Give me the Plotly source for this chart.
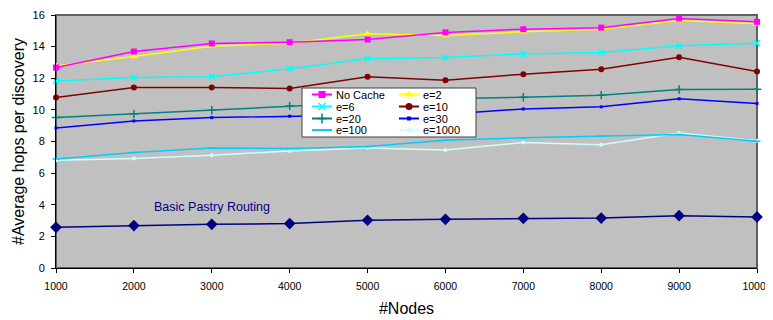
import plotly.graph_objects as go

nodes = [1000, 2000, 3000, 4000, 5000, 6000, 7000, 8000, 9000, 10000]
x_tick_labels = ["1000", "2000", "3000", "4000", "5000", "6000", "7000", "8000", "9000", "10000"]
y_ticks = [0, 2, 4, 6, 8, 10, 12, 14, 16]

no_cache = [12.68, 13.69, 14.20, 14.28, 14.45, 14.90, 15.10, 15.20, 15.78, 15.57]
e2 = [12.78, 13.37, 14.03, 14.22, 14.81, 14.70, 14.94, 15.10, 15.65, 15.44]
e6 = [11.83, 12.04, 12.10, 12.60, 13.23, 13.31, 13.54, 13.63, 14.05, 14.22]
e10 = [10.78, 11.41, 11.41, 11.35, 12.09, 11.88, 12.26, 12.57, 13.33, 12.42]
e20 = [9.51, 9.75, 9.98, 10.25, 10.50, 10.70, 10.80, 10.93, 11.29, 11.31]
e30 = [8.86, 9.30, 9.51, 9.60, 9.68, 9.72, 10.06, 10.19, 10.70, 10.40]
e100 = [6.90, 7.30, 7.59, 7.55, 7.68, 8.08, 8.23, 8.35, 8.44, 8.02]
e1000 = [6.81, 6.92, 7.13, 7.40, 7.59, 7.47, 7.93, 7.80, 8.54, 8.04]
basic = [2.57, 2.68, 2.76, 2.81, 3.02, 3.08, 3.14, 3.16, 3.31, 3.23]

series_names = ["No Cache", "e=2", "e=6", "e=10", "e=20", "e=30", "e=100", "e=1000"]
series_values = [no_cache, e2, e6, e10, e20, e30, e100, e1000]
colors = ["#FF00FF", "#FFFF00", "#00FFFF", "#800000", "#008080", "#0000FF", "#00CCFF", "#CCFFFF"]
symbols = ["square", "triangle-up", "x-thin", "circle", "cross-thin", "square", "line-ew", "circle"]
msizes = [6, 7, 6, 6, 6, 3, 5, 4]

basic_label = "Basic Pastry Routing"
FONT = "Liberation Sans, Arial, sans-serif"


def marker_line(sym, col):
    if sym.endswith("thin") or sym == "line-ew":
        return dict(width=1.5, color=col)
    return dict(width=0)


fig = go.Figure()

for i in reversed(range(len(series_names))):
    fig.add_trace(go.Scatter(
        x=nodes, y=series_values[i], name=series_names[i], mode="lines+markers",
        line=dict(color=colors[i], width=1.5),
        marker=dict(symbol=symbols[i], size=msizes[i], color=colors[i],
                    line=marker_line(symbols[i], colors[i])),
        cliponaxis=False, showlegend=False,
    ))

fig.add_trace(go.Scatter(
    x=nodes, y=basic, name=basic_label, mode="lines+markers",
    line=dict(color="#000080", width=1.5),
    marker=dict(symbol="diamond", size=9, color="#000080"),
    cliponaxis=False, showlegend=False,
))

# Custom legend (Excel-style, two columns) on an overlay axis in screen-pixel units
L, R, T, B = 302, 476, 88, 137
fig.add_trace(go.Scatter(
    x=[L, R, R, L, L], y=[T, T, B, B, T], xaxis="x2", yaxis="y2",
    mode="lines", fill="toself", fillcolor="white",
    line=dict(color="#404040", width=1), hoverinfo="skip", showlegend=False,
))
row_y = [94.5, 106.5, 118.5, 130.0]
col_x = [312, 399]
annotations = []
for i, name in enumerate(series_names):
    r, c = i // 2, i % 2
    x0 = col_x[c]
    yy = row_y[r]
    fig.add_trace(go.Scatter(
        x=[x0, x0 + 20], y=[yy, yy], xaxis="x2", yaxis="y2", mode="lines",
        line=dict(color=colors[i], width=2), hoverinfo="skip", showlegend=False,
    ))
    fig.add_trace(go.Scatter(
        x=[x0 + 10], y=[yy], xaxis="x2", yaxis="y2", mode="markers",
        marker=dict(symbol=symbols[i], size=msizes[i] + 1, color=colors[i],
                    line=marker_line(symbols[i], colors[i])),
        hoverinfo="skip", showlegend=False,
    ))
    annotations.append(dict(
        x=x0 + 22, y=yy, xref="x2", yref="y2", text=name, showarrow=False,
        xanchor="left", yanchor="middle", font=dict(family=FONT, size=11, color="black"),
    ))

annotations.append(dict(
    x=3000, y=3.3, xref="x", yref="y", text=basic_label, showarrow=False,
    xanchor="center", yanchor="bottom", font=dict(family=FONT, size=12.5, color="#000080"),
))

# The page body has an 8px default margin, so the figure is sized/offset for it
fig.update_layout(
    width=765, height=312,
    margin=dict(l=48, r=16, t=7, b=52, autoexpand=False),
    paper_bgcolor="white", plot_bgcolor="#C0C0C0",
    font=dict(family=FONT, size=11, color="black"),
    showlegend=False,
    annotations=annotations,
    xaxis=dict(
        range=[1000, 10000], tickmode="array", tickvals=nodes, ticktext=x_tick_labels,
        showgrid=False, zeroline=False, showline=True, linecolor="black", linewidth=1,
        ticks="outside", ticklen=4, tickcolor="black", tickfont=dict(size=10.5),
        ticklabelstandoff=4, ticklabeloverflow="allow", automargin=False,
        title=dict(text="#Nodes", font=dict(size=16), standoff=12),
    ),
    yaxis=dict(
        range=[0, 16], tickmode="array", tickvals=y_ticks,
        showgrid=False, zeroline=False, showline=True, linecolor="black", linewidth=1,
        ticks="outside", ticklen=4, tickcolor="black", tickfont=dict(size=11),
        ticklabelstandoff=4, automargin=False,
        title=dict(text="#Average hops per discovery", font=dict(size=16), standoff=3),
    ),
    xaxis2=dict(overlaying="x", range=[56, 757], visible=False, fixedrange=True),
    yaxis2=dict(overlaying="y", range=[268, 15], visible=False, fixedrange=True),
    shapes=[dict(type="rect", xref="paper", yref="paper", x0=0, x1=1, y0=0, y1=1,
                 line=dict(color="#606060", width=2), layer="below")],
)

fig.write_html("out.html")
